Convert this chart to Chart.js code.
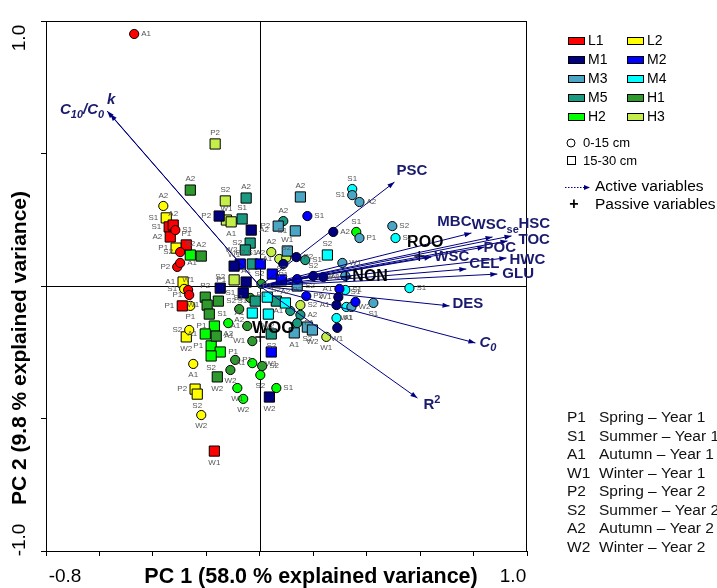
<!DOCTYPE html>
<html>
<head>
<meta charset="utf-8">
<script src="https://cdn.jsdelivr.net/npm/chart.js@4.4.1/dist/chart.umd.min.js"></script>
<style>
  html, body { margin: 0; padding: 0; background: #fff; }
</style>
</head>
<body>
<canvas id="pcaChart" width="717" height="588"></canvas>
<script>
// PCA sample scores: [PC1, PC2, season]. c = 0-15 cm (circles), s = 15-30 cm (squares)
const L1c = [[-0.470, 0.951, 'A1'], [-0.316, 0.211, 'S1'], [-0.298, 0.128, 'S2'], [-0.309, 0.072, 'P2'], [-0.298, 0.087, 'A1'], [-0.268, -0.015, 'W1'], [-0.264, -0.034, 'P1']];
const L1s = [[-0.339, 0.223, 'S1'], [-0.324, 0.230, 'A2'], [-0.335, 0.185, 'A2'], [-0.275, 0.155, 'P1'], [-0.290, -0.075, 'P1'], [-0.170, -0.623, 'W1']];
const L2c = [[-0.361, 0.302, 'A2'], [-0.283, -0.011, 'S1'], [-0.260, -0.075, 'P1'], [-0.264, -0.166, 'S2'], [-0.249, -0.294, 'A1'], [-0.219, -0.487, 'W2']];
const L2s = [[-0.350, 0.257, 'S1'], [-0.313, 0.143, 'P1'], [-0.287, 0.015, 'A1'], [-0.275, -0.192, 'W2'], [-0.242, -0.389, 'P2'], [-0.234, -0.408, 'S2']];
const M1c = [[0.275, 0.204, 'A2'], [0.137, 0.109, 'P2'], [0.088, 0.083, 'P1'], [0.200, 0.038, 'S2'], [0.238, 0.034, 'A1'], [0.294, -0.042, 'W1'], [0.287, -0.072, 'A1'], [0.290, -0.158, 'W1']];
const M1s = [[-0.152, 0.264, 'P2'], [-0.032, 0.211, 'A2'], [-0.096, 0.075, 'W1'], [-0.051, 0.015, 'A1'], [-0.148, -0.008, 'S2'], [-0.062, -0.026, 'S1'], [0.036, -0.419, 'W2']];
const M2c = [[0.178, 0.264, 'S1'], [0.140, 0.026, 'P2'], [0.174, -0.038, 'P2'], [0.298, -0.011, 'A1'], [0.358, -0.060, 'S1']];
const M2s = [[-0.073, 0.083, 'P2'], [0.002, 0.083, 'A2'], [0.047, 0.045, 'S2'], [0.081, 0.023, 'S2'], [0.043, -0.249, 'W1']];
const M3c = [[0.346, 0.343, 'S1'], [0.373, 0.317, 'A2'], [0.373, 0.181, 'P1'], [0.496, 0.226, 'S2'], [0.309, 0.087, 'W1'], [0.320, 0.038, 'A1'], [0.343, -0.079, 'W2'], [0.425, -0.064, 'S1']];
const M3s = [[0.152, 0.336, 'A2'], [0.069, 0.226, 'P2'], [0.133, 0.208, 'S1'], [0.103, 0.132, 'W1'], [0.140, 0.000, 'S2'], [0.129, -0.177, 'A1'], [0.178, -0.155, 'S2'], [0.197, -0.166, 'W2']];
const M4c = [[0.346, 0.366, 'S1'], [0.508, 0.181, 'S2'], [0.560, -0.008, 'S1'], [0.320, -0.015, 'S1'], [0.324, -0.079, 'W1'], [0.287, -0.121, 'A1']];
const M4s = [[0.253, 0.117, 'S2'], [0.028, -0.042, 'P1'], [0.096, -0.064, 'A2'], [-0.028, -0.102, 'A1'], [0.032, -0.106, 'W2']];
const M5c = [[0.088, 0.245, 'A2'], [0.170, 0.098, 'S1'], [0.114, -0.094, 'A1'], [0.152, -0.109, 'A2'], [0.140, -0.140, 'P1']];
const M5s = [[-0.051, 0.332, 'A2'], [-0.066, 0.253, 'S1'], [-0.036, 0.162, 'S2'], [-0.054, 0.136, 'W2'], [-0.028, 0.083, 'S1'], [-0.017, -0.057, 'S1'], [0.062, -0.057, 'S2'], [0.043, -0.181, 'S2']];
const H1c = [[-0.077, -0.087, 'A2'], [-0.047, -0.151, 'A1'], [-0.028, -0.208, 'W1'], [-0.092, -0.279, 'P1'], [-0.110, -0.317, 'W2'], [0.009, -0.302, 'S2'], [0.006, 0.008, 'P1'], [-0.036, -0.045, 'S1']];
const H1s = [[-0.260, 0.362, 'A2'], [-0.219, 0.113, 'A2'], [-0.204, -0.042, 'P2'], [-0.197, -0.072, 'W1'], [-0.189, -0.106, 'S1'], [-0.155, -0.057, 'S2'], [-0.163, -0.189, 'A1'], [-0.159, -0.343, 'W2']];
const H2c = [[-0.118, -0.140, 'A2'], [-0.028, -0.291, 'A1'], [0.002, -0.336, 'S2'], [0.062, -0.385, 'S1'], [-0.084, -0.385, 'W1'], [-0.062, -0.426, 'W2'], [0.361, 0.204, 'S1']];
const H2s = [[-0.260, 0.117, 'S2'], [-0.170, -0.151, 'P1'], [-0.204, -0.181, 'A1'], [-0.182, -0.226, 'P1'], [-0.148, -0.249, 'P1'], [-0.182, -0.264, 'S2']];
const H3c = [[0.043, 0.128, 'A2'], [0.073, 0.102, 'A1'], [0.099, 0.106, 'S2'], [0.152, -0.072, 'S2'], [0.249, -0.192, 'W1']];
const H3s = [[-0.167, 0.536, 'P2'], [-0.129, 0.321, 'S2'], [-0.125, 0.249, 'W1'], [-0.107, 0.242, 'A1'], [-0.096, 0.023, 'P1']];

const sites = ['L1', 'L2', 'M1', 'M2', 'M3', 'M4', 'M5', 'H1', 'H2', 'H3'];

// variable loadings (arrows = active, crosses = passive)
const activeVars = ['C10/C0', 'k', 'PSC', 'MBC', 'WSCse', 'HSC', 'TOC', 'POC', 'WSC', 'HWC', 'CEL', 'GLU', 'DES', 'C0', 'R2'];
const activePC1 = [-0.571, -0.560, 0.504, 0.792, 0.871, 0.942, 0.927, 0.841, 0.642, 0.923, 0.773, 0.889, 0.710, 0.807, 0.590];
const activePC2 = [0.660, 0.649, 0.392, 0.200, 0.185, 0.189, 0.170, 0.147, 0.109, 0.106, 0.064, 0.045, -0.075, -0.215, -0.423];
const passiveVars = ['ROO', 'NON', 'WOO'];
const passivePC1 = [0.597, 0.324, 0.002];
const passivePC2 = [0.113, 0.034, -0.192];

const seasonCodes = ['P1', 'S1', 'A1', 'W1', 'P2', 'S2', 'A2', 'W2'];
const seasonNames = ['Spring \u2013 Year 1', 'Summer \u2013 Year 1', 'Autumn \u2013 Year 1', 'Winter \u2013 Year 1',
                     'Spring \u2013 Year 2', 'Summer \u2013 Year 2', 'Autumn \u2013 Year 2', 'Winter \u2013 Year 2'];
const xTickLabels = ['-0.8', '1.0'];
const yTickLabels = ['1.0', '-1.0'];

// ---- styling ----
const scores = { L1c, L1s, L2c, L2s, M1c, M1s, M2c, M2s, M3c, M3s, M4c, M4s, M5c, M5s, H1c, H1s, H2c, H2s, H3c, H3s };
const siteColors = {
    L1: '#ff0000', L2: '#ffff00', M1: '#000080', M2: '#0000ff', M3: '#4aa6c4',
    M4: '#00ffff', M5: '#1a9a80', H1: '#2e9a2e', H2: '#00ff00', H3: '#c4ef4a'
};
// where the season tag sits next to each point (n, s, e, w), same order as the arrays
const labelSides = {
    L1c: 'eewwenw', L1s: 'wnwnws', L2c: 'nwswss', L2s: 'wwwsws',
    M1c: 'eesnewws', M1s: 'wennnws', M2c: 'esewn', M2s: 'nnwns',
    M3c: 'weeeewes', M3s: 'nwwnesss', M4c: 'neeese', M4s: 'nnnws',
    M5c: 'newee', M5s: 'nnwwnwns', H1c: 'swwesesw', H1s: 'nnnweees',
    H2c: 'swsessn', H2s: 'nwwwes', H3c: 'nwnes', H3s: 'nnnsw'
};
const NAVY = '#000080';
const LABEL_NAVY = '#1a1a6e';

// rich text parts: [text, 0 normal / 1 subscript / 2 superscript]
const varLabels = {
    'C10/C0': { parts: [['C', 0], ['10', 1], ['/C', 0], ['0', 1]], italic: true, align: 'right', dx: -3, dy: -1 },
    'k': { parts: [['k', 0]], italic: true, align: 'center', dx: 1, dy: -14 },
    'PSC': { parts: [['PSC', 0]], align: 'left', dx: 2, dy: -11 },
    'MBC': { parts: [['MBC', 0]], align: 'center', dx: -17, dy: -11 },
    'WSCse': { parts: [['WSC', 0], ['se', 1]], align: 'left', dx: -21, dy: -12 },
    'HSC': { parts: [['HSC', 0]], align: 'left', dx: 7, dy: -12 },
    'TOC': { parts: [['TOC', 0]], align: 'left', dx: 11, dy: -1 },
    'POC': { parts: [['POC', 0]], align: 'left', dx: -1, dy: 1 },
    'WSC': { parts: [['WSC', 0]], align: 'left', dx: 3, dy: 0 },
    'HWC': { parts: [['HWC', 0]], align: 'left', dx: 3, dy: 2 },
    'CEL': { parts: [['CEL', 0]], align: 'left', dx: 3, dy: -5 },
    'GLU': { parts: [['GLU', 0]], align: 'left', dx: 5, dy: 0 },
    'DES': { parts: [['DES', 0]], align: 'left', dx: 3, dy: -2 },
    'C0': { parts: [['C', 0], ['0', 1]], italic: true, align: 'left', dx: 4, dy: 0 },
    'R2': { parts: [['R', 0], ['2', 2]], align: 'left', dx: 6, dy: 7 }
};
const passiveLabels = {
    ROO: { align: 'center', dx: 6, dy: -13, size: 16 },
    NON: { align: 'left', dx: 6, dy: 0, size: 16 },
    WOO: { align: 'center', dx: 13, dy: -9, size: 17 }
};

// ---- datasets ----
const datasets = [];
activeVars.forEach((name, i) => {
    datasets.push({
        type: 'line', label: name, kind: 'arrow',
        data: [{ x: 0, y: 0 }, { x: activePC1[i], y: activePC2[i] }],
        borderColor: NAVY, borderWidth: 1, pointRadius: 0, fill: false, tension: 0, order: 0
    });
});
datasets.push({
    label: 'passive', kind: 'passive',
    data: passiveVars.map((v, i) => ({ x: passivePC1[i], y: passivePC2[i] })),
    pointStyle: 'cross', pointRadius: 5, borderColor: '#000', borderWidth: 1.5, order: 1
});
sites.forEach(site => {
    [['c', 'circle', 4.6], ['s', 'rect', 7.2]].forEach(([depth, style, r]) => {
        const key = site + depth;
        datasets.push({
            label: key, kind: 'score',
            data: scores[key].map(p => ({ x: p[0], y: p[1], season: p[2] })),
            pointStyle: style, pointRadius: r, pointHoverRadius: r,
            backgroundColor: siteColors[site], borderColor: '#000', borderWidth: 1, order: 2
        });
    });
});

function richWidth(ctx, parts, size, italic) {
    let w = 0;
    parts.forEach(([t, mode]) => {
        const s = mode ? Math.round(size * 0.7) : size;
        ctx.font = (italic ? 'italic ' : '') + 'bold ' + s + 'px Arial';
        w += ctx.measureText(t).width;
    });
    return w;
}

function drawRich(ctx, parts, x, y, size, italic, align) {
    const w = richWidth(ctx, parts, size, italic);
    let cx = align === 'right' ? x - w : align === 'center' ? x - w / 2 : x;
    ctx.textAlign = 'left';
    ctx.textBaseline = 'middle';
    parts.forEach(([t, mode]) => {
        const s = mode ? Math.round(size * 0.7) : size;
        ctx.font = (italic ? 'italic ' : '') + 'bold ' + s + 'px Arial';
        const oy = mode === 1 ? size * 0.3 : mode === 2 ? -size * 0.35 : 0;
        ctx.fillText(t, cx, y + oy);
        cx += ctx.measureText(t).width;
    });
}

function arrowHead(ctx, x0, y0, x1, y1, len, half, color) {
    const a = Math.atan2(y1 - y0, x1 - x0);
    ctx.fillStyle = color;
    ctx.beginPath();
    ctx.moveTo(x1, y1);
    ctx.lineTo(x1 - len * Math.cos(a) + half * Math.sin(a), y1 - len * Math.sin(a) - half * Math.cos(a));
    ctx.lineTo(x1 - len * Math.cos(a) - half * Math.sin(a), y1 - len * Math.sin(a) + half * Math.cos(a));
    ctx.closePath();
    ctx.fill();
}

// frame, zero lines
const framePlugin = {
    id: 'frame',
    beforeDatasetsDraw(chart) {
        const { ctx, chartArea: a, scales: { x, y } } = chart;
        ctx.save();
        ctx.strokeStyle = '#000';
        ctx.lineWidth = 1;
        ctx.beginPath();
        ctx.moveTo(a.left, a.top + 0.5); ctx.lineTo(a.right, a.top + 0.5);
        ctx.moveTo(a.right - 0.5, a.top); ctx.lineTo(a.right - 0.5, a.bottom);
        const x0 = Math.round(x.getPixelForValue(0)) + 0.5;
        const y0 = Math.round(y.getPixelForValue(0)) + 0.5;
        ctx.moveTo(x0, a.top); ctx.lineTo(x0, a.bottom);
        ctx.moveTo(a.left, y0); ctx.lineTo(a.right, y0);
        ctx.stroke();
        ctx.restore();
    }
};

// arrowheads, tags, variable names, axis texts, legends
const annotatePlugin = {
    id: 'annotate',
    afterDatasetsDraw(chart) {
        const { ctx } = chart;
        ctx.save();
        chart.data.datasets.forEach((ds, di) => {
            const meta = chart.getDatasetMeta(di);
            if (ds.kind === 'arrow') {
                const p0 = meta.data[0], p1 = meta.data[1];
                arrowHead(ctx, p0.x, p0.y, p1.x, p1.y, 7, 2.5, NAVY);
                const lab = varLabels[ds.label];
                ctx.fillStyle = LABEL_NAVY;
                drawRich(ctx, lab.parts, p1.x + lab.dx, p1.y + lab.dy, 15, lab.italic, lab.align);
            } else if (ds.kind === 'passive') {
                meta.data.forEach((el, i) => {
                    const lab = passiveLabels[passiveVars[i]];
                    ctx.fillStyle = '#000';
                    ctx.font = 'bold ' + lab.size + 'px Arial';
                    ctx.textAlign = lab.align;
                    ctx.textBaseline = 'middle';
                    ctx.fillText(passiveVars[i], el.x + lab.dx, el.y + lab.dy);
                });
            } else if (ds.kind === 'score') {
                const sides = labelSides[ds.label];
                const off = ds.pointStyle === 'rect' ? 8 : 7;
                ctx.fillStyle = '#555';
                ctx.font = '8px Arial';
                meta.data.forEach((el, i) => {
                    const side = sides[i];
                    const tag = ds.data[i].season;
                    if (side === 'n') { ctx.textAlign = 'center'; ctx.textBaseline = 'bottom'; ctx.fillText(tag, el.x, el.y - off + 1); }
                    else if (side === 's') { ctx.textAlign = 'center'; ctx.textBaseline = 'top'; ctx.fillText(tag, el.x, el.y + off); }
                    else if (side === 'e') { ctx.textAlign = 'left'; ctx.textBaseline = 'middle'; ctx.fillText(tag, el.x + off, el.y); }
                    else { ctx.textAlign = 'right'; ctx.textBaseline = 'middle'; ctx.fillText(tag, el.x - off, el.y); }
                });
            }
        });

        // axis texts
        ctx.fillStyle = '#000';
        ctx.textBaseline = 'middle';
        ctx.textAlign = 'center';
        ctx.font = '19px Arial';
        ctx.fillText(xTickLabels[0], 65, 577);
        ctx.fillText(xTickLabels[1], 513, 577);
        ctx.font = 'bold 21.5px Arial';
        ctx.fillText('PC 1 (58.0 % explained variance)', 311, 577);
        ctx.save();
        ctx.translate(20, 0);
        ctx.rotate(-Math.PI / 2);
        ctx.font = '19px Arial';
        ctx.fillText(yTickLabels[0], -38, 0);
        ctx.fillText(yTickLabels[1], -540, 0);
        ctx.font = 'bold 21px Arial';
        ctx.fillText('PC 2 (9.8 % explained variance)', -348, 0);
        ctx.restore();

        // site legend
        ctx.font = '14px Arial';
        ctx.textAlign = 'left';
        sites.forEach((site, i) => {
            const bx = 568 + (i % 2) * 59;
            const by = 41 + Math.floor(i / 2) * 19;
            ctx.fillStyle = siteColors[site];
            ctx.fillRect(bx, by - 4, 17, 8);
            ctx.strokeStyle = '#000';
            ctx.lineWidth = 1;
            ctx.strokeRect(bx + 0.5, by - 3.5, 16, 7);
            ctx.fillStyle = '#000';
            ctx.fillText(site, bx + 20, by);
        });
        // depth legend
        ctx.lineWidth = 1;
        ctx.strokeStyle = '#000';
        ctx.beginPath(); ctx.arc(571, 143, 4, 0, Math.PI * 2); ctx.stroke();
        ctx.strokeRect(567.5, 156.5, 8, 8);
        ctx.font = '13px Arial';
        ctx.fillText('0-15 cm', 583, 143);
        ctx.fillText('15-30 cm', 583, 161);
        // variable legend
        ctx.strokeStyle = NAVY;
        ctx.setLineDash([1.5, 1.5]);
        ctx.beginPath(); ctx.moveTo(565, 187.5); ctx.lineTo(586, 187.5); ctx.stroke();
        ctx.setLineDash([]);
        arrowHead(ctx, 565, 187.5, 590, 187.5, 6, 2.5, NAVY);
        ctx.fillStyle = '#000';
        ctx.font = '15.5px Arial';
        ctx.fillText('Active variables', 595, 187);
        ctx.fillText('Passive variables', 595, 205);
        ctx.font = 'bold 16px Arial';
        ctx.textAlign = 'center';
        ctx.fillText('+', 574, 205);
        // season legend
        ctx.textAlign = 'left';
        ctx.font = '15.5px Arial';
        ctx.fillStyle = '#111';
        seasonCodes.forEach((code, i) => {
            const yy = 418 + i * 18.5;
            ctx.fillText(code, 567, yy);
            ctx.fillText(seasonNames[i], 599, yy);
        });
        ctx.restore();
    }
};

new Chart(document.getElementById('pcaChart').getContext('2d'), {
    type: 'scatter',
    data: { datasets: datasets },
    options: {
        responsive: false,
        animation: false,
        layout: { padding: { top: 21, right: 190, left: 0, bottom: 0 } },
        plugins: { legend: { display: false }, tooltip: { enabled: false } },
        scales: {
            x: {
                type: 'linear', min: -0.8, max: 1.0,
                ticks: { stepSize: 0.2, callback: () => '' },
                grid: { drawOnChartArea: false, drawTicks: true, tickLength: 5, color: '#000' },
                border: { display: true, color: '#000', width: 1 },
                afterFit: s => { s.height = 37; }
            },
            y: {
                type: 'linear', min: -1.0, max: 1.0,
                ticks: { stepSize: 0.5, callback: () => '' },
                grid: { drawOnChartArea: false, drawTicks: true, tickLength: 5, color: '#000' },
                border: { display: true, color: '#000', width: 1 },
                afterFit: s => { s.width = 46; }
            }
        }
    },
    plugins: [framePlugin, annotatePlugin]
});
</script>
</body>
</html>
